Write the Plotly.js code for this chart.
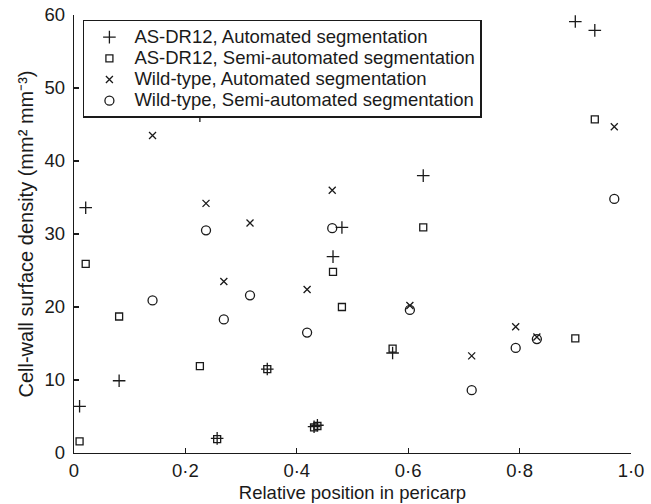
<!DOCTYPE html>
<html>
<head>
<meta charset="utf-8">
<script src="https://cdn.plot.ly/plotly-3.0.1.min.js"></script>
<style>
  html, body { margin: 0; padding: 0; background: #fff; }
  #chart { width: 651px; height: 504px; }
  .legendtext { font-size: 18.5px !important; }
</style>
</head>
<body>
<div id="chart"></div>
<script>
// Relative position in pericarp (AS-DR12 slices)
const asX = [0.010, 0.021, 0.081, 0.226, 0.257, 0.347, 0.431, 0.437, 0.465, 0.481, 0.572, 0.627, 0.900, 0.935];
// AS-DR12, Automated segmentation
const asAuto = [6.4, 33.6, 9.9, 46.2, 2.0, 11.5, 3.6, 3.8, 26.9, 30.9, 13.7, 38.0, 59.1, 57.9];
// AS-DR12, Semi-automated segmentation
const asSemi = [1.6, 25.9, 18.7, 11.9, 1.9, 11.5, 3.5, 3.7, 24.8, 20.0, 14.3, 30.9, 15.7, 45.7];

// Relative position in pericarp (Wild-type slices)
const wtX = [0.141, 0.237, 0.269, 0.316, 0.4185, 0.4636, 0.603, 0.714, 0.793, 0.831, 0.970];
// Wild-type, Automated segmentation
const wtAuto = [43.5, 34.2, 23.5, 31.5, 22.4, 36.0, 20.2, 13.3, 17.3, 15.9, 44.7];
// Wild-type, Semi-automated segmentation
const wtSemi = [20.9, 30.5, 18.3, 21.6, 16.5, 30.8, 19.6, 8.6, 14.4, 15.6, 34.8];

const seriesNames = [
  "AS-DR12, Automated segmentation",
  "AS-DR12, Semi-automated segmentation",
  "Wild-type, Automated segmentation",
  "Wild-type, Semi-automated segmentation"
];

const xTickVals = [0, 0.2, 0.4, 0.6, 0.8, 1.0];
const xTickText = ["0", "0·2", "0·4", "0·6", "0·8", "1·0"];
const yTickVals = [0, 10, 20, 30, 40, 50, 60];

const FONT = "Liberation Sans, Arial, Helvetica, sans-serif";
const INK = "#1a1a1a";

const traces = [
  { x: asX, y: asAuto, name: seriesNames[0],
    marker: { symbol: "cross-thin-open", size: 9, line: { color: INK, width: 1.3 }, color: INK } },
  { x: asX, y: asSemi, name: seriesNames[1],
    marker: { symbol: "square-open", size: 7, line: { color: INK, width: 1.3 }, color: INK } },
  { x: wtX, y: wtAuto, name: seriesNames[2],
    marker: { symbol: "x-thin-open", size: 7, line: { color: INK, width: 1.3 }, color: INK } },
  { x: wtX, y: wtSemi, name: seriesNames[3],
    marker: { symbol: "circle-open", size: 9, line: { color: INK, width: 1.3 }, color: INK } }
].map(t => Object.assign({ type: "scatter", mode: "markers", cliponaxis: false, hoverinfo: "x+y" }, t));

const layout = {
  width: 651, height: 504,
  margin: { l: 74, r: 20, t: 15, b: 51, pad: 0 },
  paper_bgcolor: "#fff", plot_bgcolor: "#fff",
  font: { family: FONT, size: 18.5, color: INK },
  showlegend: true,
  legend: {
    x: 0.016, y: 0.9886, xanchor: "left", yanchor: "top",
    bgcolor: "#fff", bordercolor: INK, borderwidth: 1.5,
    font: { family: FONT, size: 14, color: INK },
    itemwidth: 40, tracegroupgap: 0
  },
  xaxis: {
    range: [0, 1], tickvals: xTickVals, ticktext: xTickText,
    ticks: "inside", ticklen: 5, tickwidth: 1.2, tickcolor: INK,
    showline: true, linecolor: INK, linewidth: 1.3,
    showgrid: false, zeroline: false, mirror: false,
    tickfont: { family: FONT, size: 18.5, color: INK },
    title: { text: "Relative position in pericarp", font: { family: FONT, size: 18.5, color: INK }, standoff: 6 }
  },
  yaxis: {
    range: [0, 60], tickvals: yTickVals,
    ticks: "inside", ticklen: 5, tickwidth: 1.2, tickcolor: INK,
    showline: true, linecolor: INK, linewidth: 1.3,
    showgrid: false, zeroline: false, mirror: false,
    tickfont: { family: FONT, size: 18.5, color: INK },
    ticklabelstandoff: 4,
    title: { text: "Cell-wall surface density (mm² mm⁻³)", font: { family: FONT, size: 20, color: INK }, standoff: 5 }
  }
};

Plotly.newPlot("chart", traces, layout, { staticPlot: true, displayModeBar: false });
</script>
</body>
</html>
